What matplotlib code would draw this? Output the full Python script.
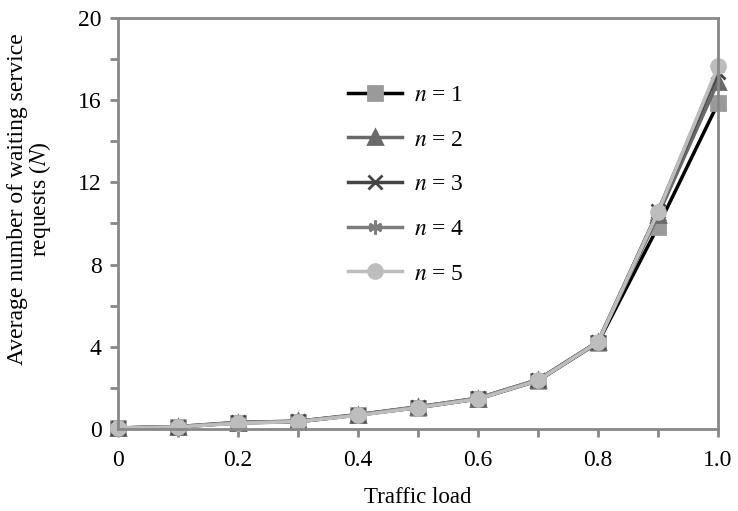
import matplotlib
matplotlib.use("Agg")
import matplotlib.pyplot as plt

plt.rcParams['font.family'] = ['Liberation Serif', 'DejaVu Serif']
plt.rcParams['mathtext.fontset'] = 'stix'

# traffic load on the x axis
load = [0, 0.1, 0.2, 0.3, 0.4, 0.5, 0.6, 0.7, 0.8, 0.9, 1.0]

# average number of waiting service requests for each n
n1 = [0.05, 0.1, 0.3, 0.35, 0.68, 1.04, 1.46, 2.35, 4.2, 9.85, 15.85]
n2 = [0.05, 0.1, 0.3, 0.37, 0.68, 1.06, 1.48, 2.38, 4.22, 10.4, 16.9]
n3 = [0.05, 0.12, 0.32, 0.38, 0.7, 1.08, 1.5, 2.4, 4.25, 10.6, 17.35]
n4 = [0.05, 0.12, 0.32, 0.38, 0.7, 1.08, 1.5, 2.4, 4.25, 10.6, 17.55]
n5 = [0.05, 0.1, 0.28, 0.36, 0.66, 1.04, 1.46, 2.36, 4.22, 10.55, 17.65]

series = [n1, n2, n3, n4, n5]
labels = ['$n$ = 1', '$n$ = 2', '$n$ = 3', '$n$ = 4', '$n$ = 5']
line_colors = ['#000000', '#6a6a6a', '#454545', '#7d7d7d', '#bdbdbd']
marker_colors = ['#9a9a9a', '#6a6a6a', '#454545', '#7d7d7d', '#bdbdbd']
markers = ['s', '^', 'x', (6, 2, 0), 'o']

fig = plt.figure(figsize=(7.38, 5.11), dpi=100)
ax = fig.add_axes([0.16, 0.1605, 0.813, 0.8045])

for vals, lab, lc, mc, mk in zip(series, labels, line_colors, marker_colors, markers):
    ax.plot(load, vals, color=lc, lw=2.5, marker=mk, markersize=10,
            markerfacecolor=mc, markeredgecolor=mc, markeredgewidth=2,
            label=lab, clip_on=False)

ax.set_xlim(0, 1.0)
ax.set_ylim(0, 20)
ax.set_xticks(load)
ax.set_xticklabels(['0', '', '0.2', '', '0.4', '', '0.6', '', '0.8', '', '1.0'])
ax.set_yticks([0, 4, 8, 12, 16, 20])
ax.set_yticks([2, 6, 10, 14, 18], minor=True)

for s in ax.spines.values():
    s.set_color('#888888')
    s.set_linewidth(2)
ax.tick_params(axis='both', which='both', color='#888888', width=2, labelsize=17)
ax.tick_params(axis='y', which='both', length=6, pad=6)
ax.tick_params(axis='x', length=6, pad=9)

ax.set_xlabel('Traffic load', fontsize=16.5, labelpad=12)
ax.set_ylabel('Average number of waiting service\nrequests ($N$)', fontsize=17,
              linespacing=0.95)
ax.yaxis.set_label_coords(-0.108, 0.56)

ax.legend(loc='upper left', bbox_to_anchor=(0.348, 0.89), frameon=False,
          fontsize=17, labelspacing=0.98, handlelength=2.3, handletextpad=0.5)

fig.savefig('out.png', dpi=100)
